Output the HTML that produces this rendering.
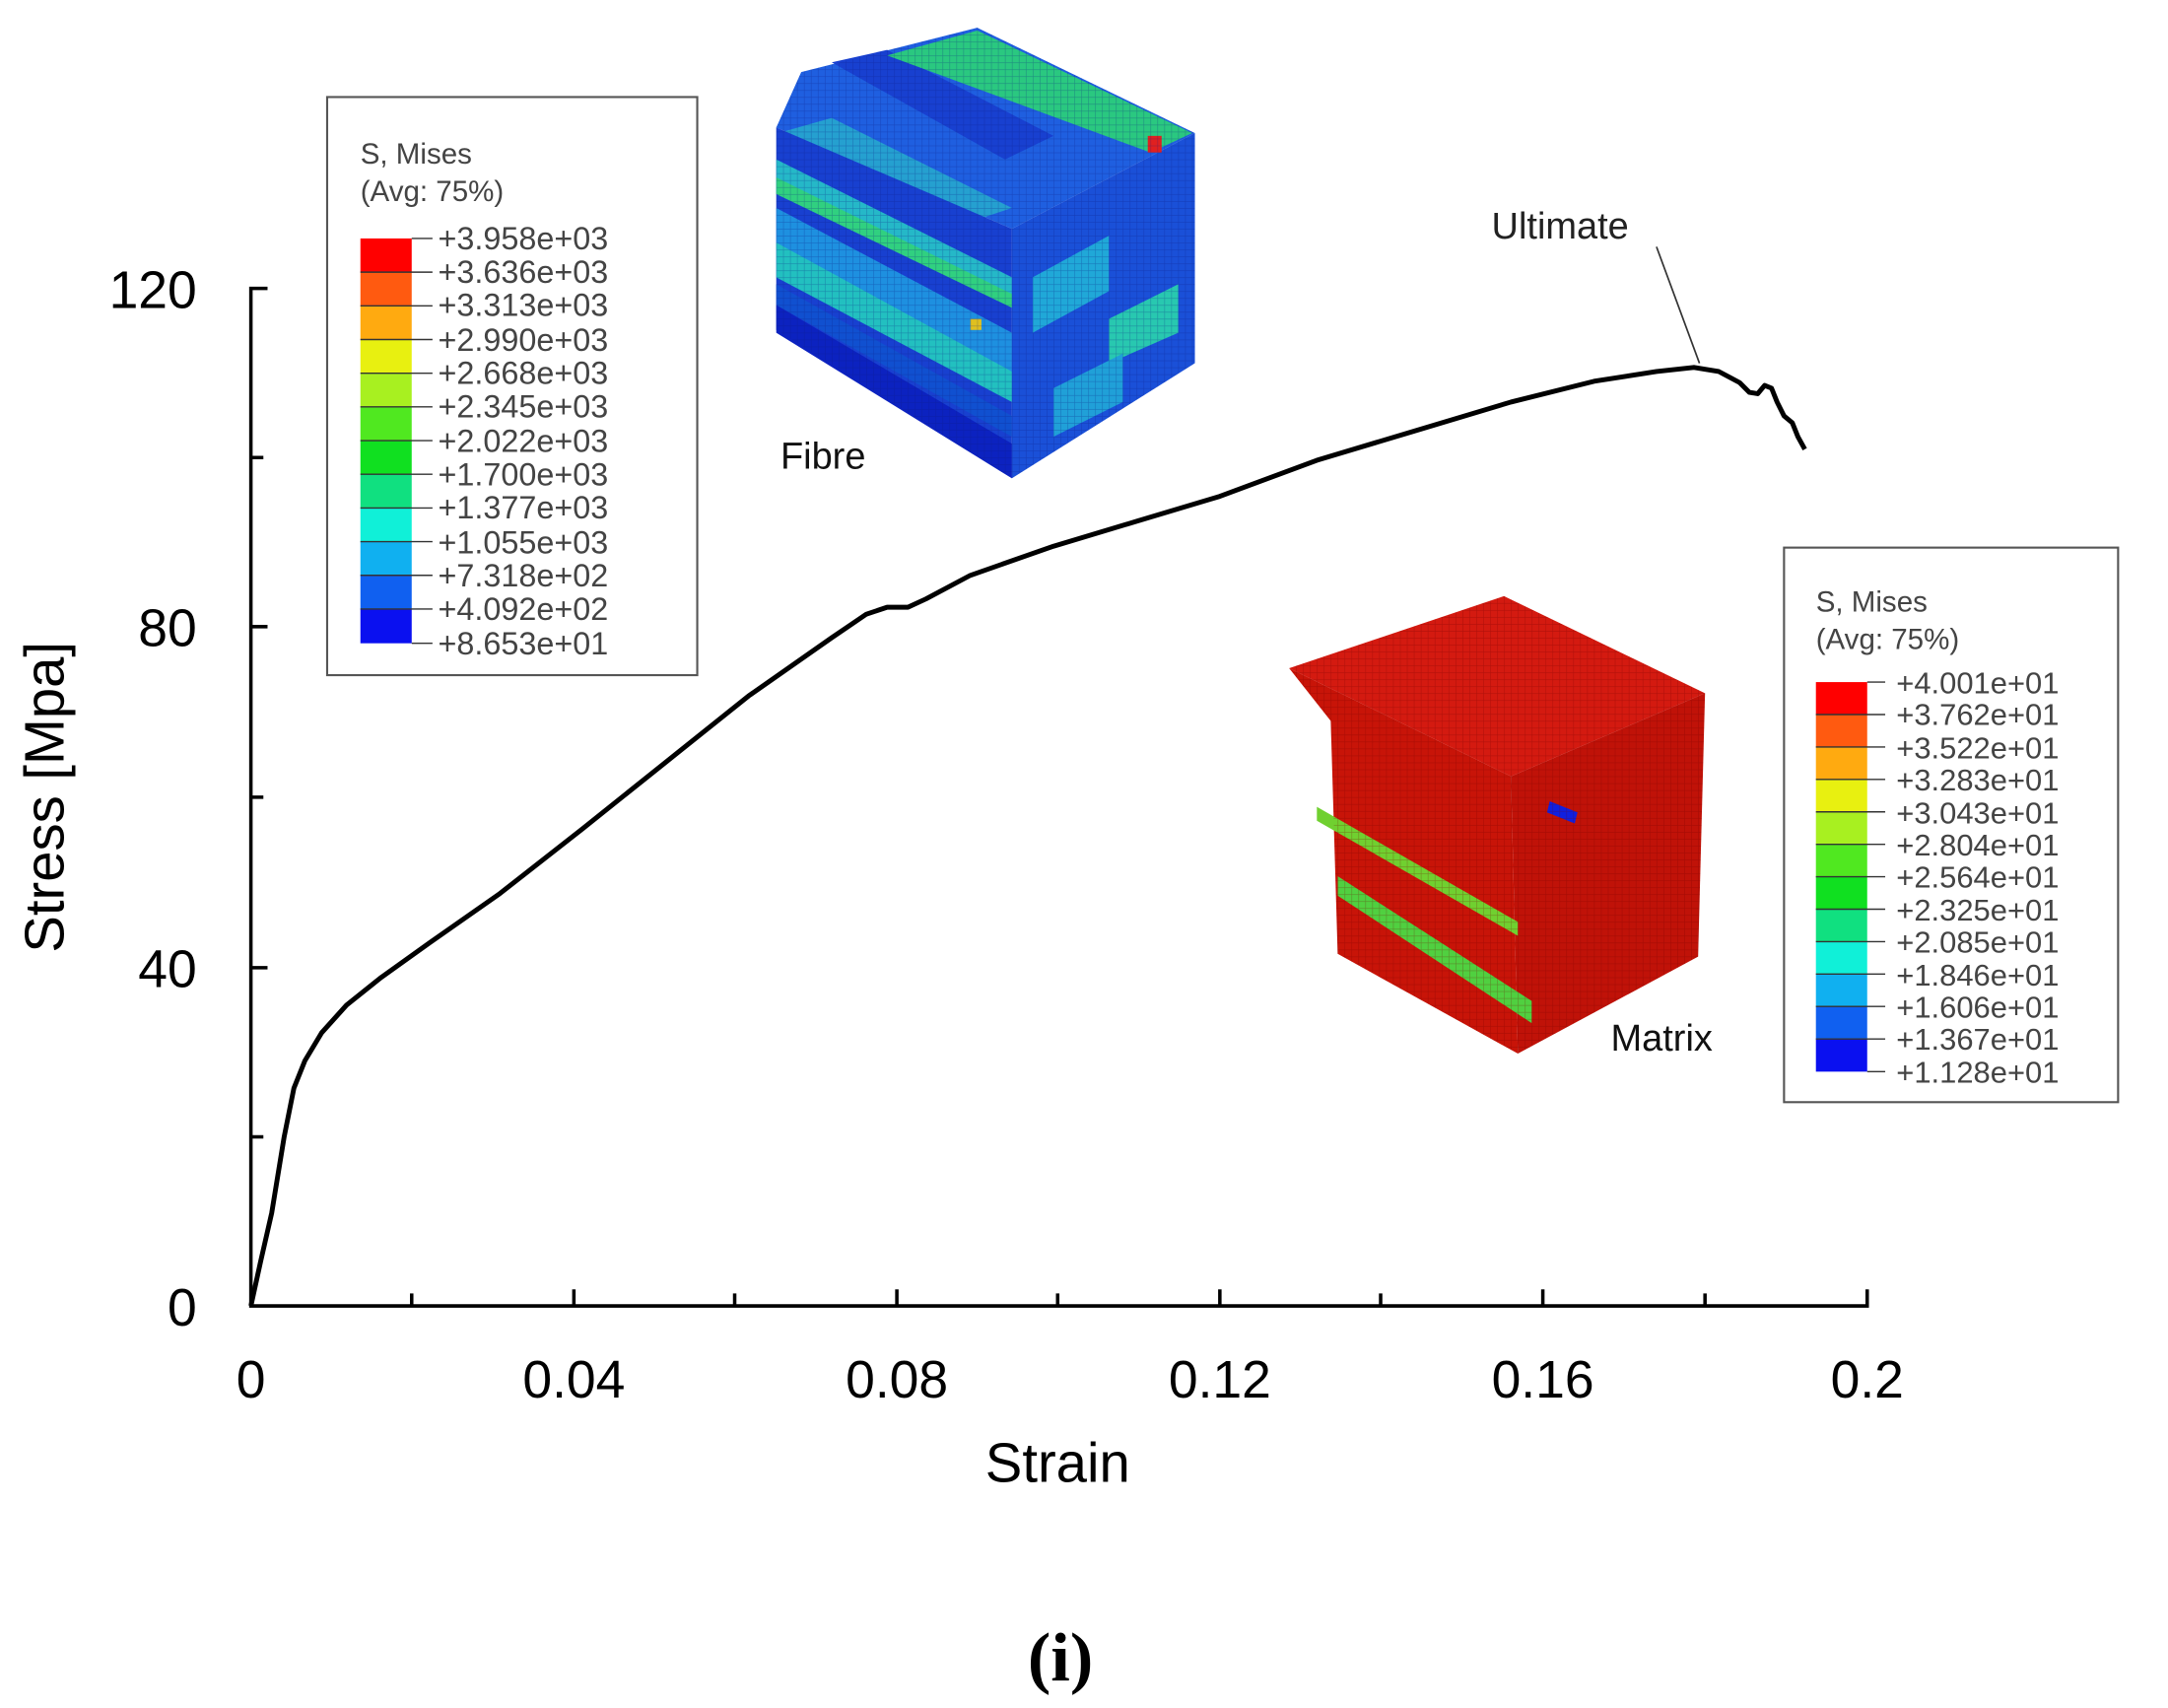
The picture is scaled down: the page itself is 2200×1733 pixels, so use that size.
<!DOCTYPE html>
<html><head><meta charset="utf-8"><style>html,body{margin:0;padding:0;background:#fff}svg{display:block}</style></head><body>
<svg width="2200" height="1733" viewBox="0 0 1564 1232" xmlns="http://www.w3.org/2000/svg" font-family="Liberation Sans, Arial, sans-serif">
<rect width="1564" height="1232" fill="#fff"/>
<defs>
<pattern id="gridB" width="5" height="5" patternUnits="userSpaceOnUse"><path d="M0 0H5M0 0V5" stroke="#0a1a80" stroke-opacity="0.35" stroke-width="0.8" fill="none"/></pattern>
<pattern id="gridR" width="5" height="5" patternUnits="userSpaceOnUse"><path d="M0 0H5M0 0V5" stroke="#700000" stroke-opacity="0.35" stroke-width="0.8" fill="none"/></pattern>
</defs>

<!-- Fibre cube -->
<g>
<polygon points="560,92 578,52 705,20 862,96 730,165" fill="#1f5fe0"/>
<polygon points="600,45 640,36 760,98 725,115" fill="#1840d0"/>
<polygon points="640,40 705,22 860,96 830,110" fill="#2ac880"/>
<polygon points="565,95 600,85 730,150 700,160" fill="#25a0d0"/>
<polygon points="560,92 730,165 730,345 560,238" fill="#1840d0"/>
<polygon points="560,115 730,200 730,220 560,140" fill="#25b8c8"/>
<polygon points="560,128 730,212 730,222 560,140" fill="#30d080"/>
<polygon points="560,150 730,240 730,270 560,180" fill="#1e90e0"/>
<polygon points="560,175 730,268 730,290 560,200" fill="#22c0c0"/>
<polygon points="560,205 730,300 730,315 560,220" fill="#1050d0"/>
<polygon points="560,220 730,320 730,345 560,240" fill="#0c22c0"/>
<polygon points="730,165 862,96 862,262 730,345" fill="#1a50d8"/>
<polygon points="745,200 800,170 800,210 745,240" fill="#20a8d8"/>
<polygon points="800,230 850,205 850,240 800,262" fill="#28c8b0"/>
<polygon points="760,280 810,255 810,290 760,315" fill="#20a0d8"/>
<rect x="828" y="98" width="10" height="12" fill="#e02020"/>
<rect x="700" y="230" width="8" height="8" fill="#e0c020"/>
<polygon points="560,92 578,52 705,20 862,96 862,262 730,345 560,238" fill="url(#gridB)"/>
</g>
<text x="563" y="338" font-size="27" fill="#111">Fibre</text>

<!-- Matrix cube -->
<g>
<polygon points="930,482 1085,430 1230,500 1090,560" fill="#d41a10"/>
<polygon points="930,482 1090,560 1095,760 965,688 960,520" fill="#c81408"/>
<polygon points="1090,560 1230,500 1225,690 1095,760" fill="#c01208"/>
<polygon points="950,582 1095,665 1095,675 950,592" fill="#70d030"/>
<polygon points="965,632 1105,722 1105,738 965,646" fill="#50d040"/>
<polygon points="1118,578 1138,586 1136,594 1116,586" fill="#1020e0"/>
<polygon points="930,482 1085,430 1230,500 1225,690 1095,760 965,688 960,520" fill="url(#gridR)"/>
</g>
<text x="1162" y="758" font-size="27" fill="#111">Matrix</text>

<!-- Fibre legend -->
<rect x="236" y="70" width="267" height="417" fill="#fff" stroke="#555" stroke-width="1.5"/>
<text x="260" y="118" font-size="21" fill="#444">S, Mises</text>
<text x="260" y="145" font-size="21" fill="#444">(Avg: 75%)</text>
<g>
<rect x="260" y="172" width="37" height="24.4" fill="#ff0000"/>
<rect x="260" y="196.3" width="37" height="24.4" fill="#ff5a10"/>
<rect x="260" y="220.6" width="37" height="24.4" fill="#ffaa10"/>
<rect x="260" y="244.9" width="37" height="24.4" fill="#e8f010"/>
<rect x="260" y="269.2" width="37" height="24.4" fill="#a8f020"/>
<rect x="260" y="293.5" width="37" height="24.4" fill="#50e820"/>
<rect x="260" y="317.8" width="37" height="24.4" fill="#10e020"/>
<rect x="260" y="342.1" width="37" height="24.4" fill="#10e080"/>
<rect x="260" y="366.4" width="37" height="24.4" fill="#10f0d8"/>
<rect x="260" y="390.7" width="37" height="24.4" fill="#10b0f0"/>
<rect x="260" y="415" width="37" height="24.4" fill="#1060f0"/>
<rect x="260" y="439.3" width="37" height="24.7" fill="#0a10f0"/>
</g>
<g stroke="#333" stroke-width="1">
<path d="M260 196.3H312M260 220.6H312M260 244.9H312M260 269.2H312M260 293.5H312M260 317.8H312M260 342.1H312M260 366.4H312M260 390.7H312M260 415H312M260 439.3H312M297 172H312M297 464H312"/>
</g>
<g font-size="23" fill="#444">
<text x="316" y="180">+3.958e+03</text><text x="316" y="204">+3.636e+03</text><text x="316" y="228">+3.313e+03</text><text x="316" y="253">+2.990e+03</text><text x="316" y="277">+2.668e+03</text><text x="316" y="301">+2.345e+03</text><text x="316" y="326">+2.022e+03</text><text x="316" y="350">+1.700e+03</text><text x="316" y="374">+1.377e+03</text><text x="316" y="399">+1.055e+03</text><text x="316" y="423">+7.318e+02</text><text x="316" y="447">+4.092e+02</text><text x="316" y="472">+8.653e+01</text>
</g>

<!-- Matrix legend -->
<rect x="1287" y="395" width="241" height="400" fill="#fff" stroke="#555" stroke-width="1.5"/>
<text x="1310" y="441" font-size="21" fill="#444">S, Mises</text>
<text x="1310" y="468" font-size="21" fill="#444">(Avg: 75%)</text>
<g>
<rect x="1310" y="492" width="37" height="23.5" fill="#ff0000"/>
<rect x="1310" y="515.4" width="37" height="23.5" fill="#ff5a10"/>
<rect x="1310" y="538.8" width="37" height="23.5" fill="#ffaa10"/>
<rect x="1310" y="562.2" width="37" height="23.5" fill="#e8f010"/>
<rect x="1310" y="585.6" width="37" height="23.5" fill="#a8f020"/>
<rect x="1310" y="609" width="37" height="23.5" fill="#50e820"/>
<rect x="1310" y="632.4" width="37" height="23.5" fill="#10e020"/>
<rect x="1310" y="655.8" width="37" height="23.5" fill="#10e080"/>
<rect x="1310" y="679.2" width="37" height="23.5" fill="#10f0d8"/>
<rect x="1310" y="702.6" width="37" height="23.5" fill="#10b0f0"/>
<rect x="1310" y="726" width="37" height="23.5" fill="#1060f0"/>
<rect x="1310" y="749.4" width="37" height="23.6" fill="#0a10f0"/>
</g>
<g stroke="#333" stroke-width="1">
<path d="M1310 515.4H1360M1310 538.8H1360M1310 562.2H1360M1310 585.6H1360M1310 609H1360M1310 632.4H1360M1310 655.8H1360M1310 679.2H1360M1310 702.6H1360M1310 726H1360M1310 749.4H1360M1347 492H1360M1347 773H1360"/>
</g>
<g font-size="22" fill="#444">
<text x="1368" y="500">+4.001e+01</text><text x="1368" y="523">+3.762e+01</text><text x="1368" y="547">+3.522e+01</text><text x="1368" y="570">+3.283e+01</text><text x="1368" y="594">+3.043e+01</text><text x="1368" y="617">+2.804e+01</text><text x="1368" y="640">+2.564e+01</text><text x="1368" y="664">+2.325e+01</text><text x="1368" y="687">+2.085e+01</text><text x="1368" y="711">+1.846e+01</text><text x="1368" y="734">+1.606e+01</text><text x="1368" y="757">+1.367e+01</text><text x="1368" y="781">+1.128e+01</text>
</g>

<!-- Axes -->
<g stroke="#000" stroke-width="2.5" fill="none">
<path d="M193 208H181V942H1347V930"/>
<path d="M181 330H190M181 452H193M181 575H190M181 698H193M181 820H190"/>
<path d="M297 942V933M414 942V930M530 942V933M647 942V930M763 942V933M880 942V930M996 942V933M1113 942V930M1230 942V933"/>
</g>
<g font-size="38" fill="#000" text-anchor="end">
<text x="142" y="222">120</text><text x="142" y="466">80</text><text x="142" y="712">40</text><text x="142" y="956">0</text>
</g>
<g font-size="38" fill="#000" text-anchor="middle">
<text x="181" y="1008">0</text><text x="414" y="1008">0.04</text><text x="647" y="1008">0.08</text><text x="880" y="1008">0.12</text><text x="1113" y="1008">0.16</text><text x="1347" y="1008">0.2</text>
</g>
<text x="763" y="1069" font-size="40" text-anchor="middle">Strain</text>
<text transform="translate(46,575) rotate(-90)" font-size="40" text-anchor="middle">Stress [Mpa]</text>
<text x="765" y="1212" font-size="50" font-weight="bold" text-anchor="middle" font-family="Liberation Serif, serif">(i)</text>

<!-- curve -->
<path d="M181,942 L188,910 L196,875 L205,820 L212,785 L220,765 L232,745 L250,725 L275,705 L310,680 L360,645 L420,598 L480,550 L540,502 L600,460 L625,443 L640,438 L655,438 L668,432 L700,415 L760,394 L820,376 L880,358 L950,332 L1020,311 L1090,290 L1150,275 L1195,268 L1222,265 L1240,268 L1255,276 L1262,283 L1268,284 L1273,278 L1278,280 L1282,290 L1287,300 L1293,305 L1297,315 L1302,324" fill="none" stroke="#000" stroke-width="3.5" stroke-linejoin="round"/>
<path d="M1195,178 L1226,262" stroke="#333" stroke-width="1.2"/>
<text x="1076" y="172" font-size="27" fill="#222">Ultimate</text>
</svg>
</body></html>
